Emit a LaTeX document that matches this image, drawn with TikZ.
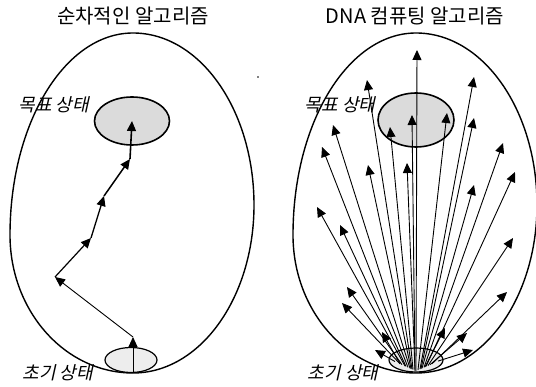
\documentclass[tikz,border=0pt]{standalone}
\usepackage{fontspec}
\newfontfamily\kr{Noto Sans CJK KR}
\newfontfamily\krit[FakeSlant=0.22]{Noto Sans CJK KR}
\usetikzlibrary{arrows.meta,shapes.geometric}
\begin{document}
\begin{tikzpicture}[x=1pt,y=-1pt,
  egg/.style={line width=1.4pt},
  goal/.style={ellipse, draw, line width=1.6pt, fill=gray!28, inner sep=0pt},
  start/.style={ellipse, draw, line width=1.2pt, fill=gray!14, inner sep=0pt},
  arr/.style={-{Triangle[length=10pt,width=9pt]}, line width=0.9pt},
  thk/.style={line width=1.6pt},
  title/.style={font=\kr\fontsize{20}{22}\selectfont, inner sep=0pt},
  lab/.style={font=\krit\fontsize{18}{20}\selectfont, inner sep=0pt}]
\useasboundingbox (0,0) rectangle (536,387);
\fill[white] (0,0) rectangle (536,387);
\clip (0,0) rectangle (536,387);
\def\eggpath{(133,33) .. controls (200,33) and (254,110) .. (254,205)
  .. controls (254,298) and (200,373) .. (133,373)
  .. controls (65,373) and (10,311) .. (10,235)
  .. controls (10,123) and (65,33) .. (133,33) -- cycle}
% eggs
\draw[egg] \eggpath;
\begin{scope}[xshift=283pt]
\draw[egg] \eggpath;
\end{scope}
% titles
\node[title] (t1) at (133,16) {순차적인 알고리즘};
\node[title] (t2) at (415,16) {DNA 컴퓨팅 알고리즘};
% left diagram
\node[goal, minimum width=75pt, minimum height=48pt] (g1) at (132,121) {};
\node[start, minimum width=52pt, minimum height=25pt] (s1) at (131,360) {};
\node[lab] (gl1) at (54,105) {목표 상태};
\node[lab] (sl1) at (58,373) {초기 상태};
\fill (258,77) circle (0.8);
\coordinate (a0) at (133,372);
\coordinate (a1) at (133,337);
\coordinate (a2) at (55,277);
\coordinate (a3) at (91,238);
\coordinate (a4) at (104,196);
\coordinate (a5) at (130,159);
\coordinate (a6) at (132,121);
\draw[arr] (a0) -- (a1);
\draw[arr] (a1) -- (a2);
\draw[arr, line width=1.2pt] (a2) -- (a3);
\draw[arr, line width=1.3pt] (a3) -- (a4);
\draw[arr, line width=1.5pt] (a4) -- (a5);
\draw[arr, thk] (a5) -- (a6);
% right diagram
\node[goal, minimum width=76pt, minimum height=54pt] (g2) at (416,120) {};
\node[start, minimum width=54pt, minimum height=24pt] (s2) at (416,360) {};
\node[lab] (gl2) at (340,105) {목표 상태};
\node[lab] (sl2) at (343,373) {초기 상태};
\foreach \ox/\tx/\ty [count=\i] in {416/417/50, 412/367/80, 420/474/77, 410/333/125, 413/390/127,
  415/412/115, 418/447/113, 421/474/118, 408/322/147, 424/503/143, 411/368/165, 415/407/163,
  426/515/172, 422/474/185, 405/317/207, 406/340/225, 428/513/238, 402/347/287, 400/342/303,
  432/507/292, 400/382/332, 395/375/350, 425/445/328, 430/467/333, 438/473/350} {
  \coordinate (o\i) at (\ox, {371-abs(\ox-416)*0.45});
  \coordinate (t\i) at (\tx,\ty);
  \draw[arr] (o\i) -- (t\i);
}
\end{tikzpicture}
\end{document}
